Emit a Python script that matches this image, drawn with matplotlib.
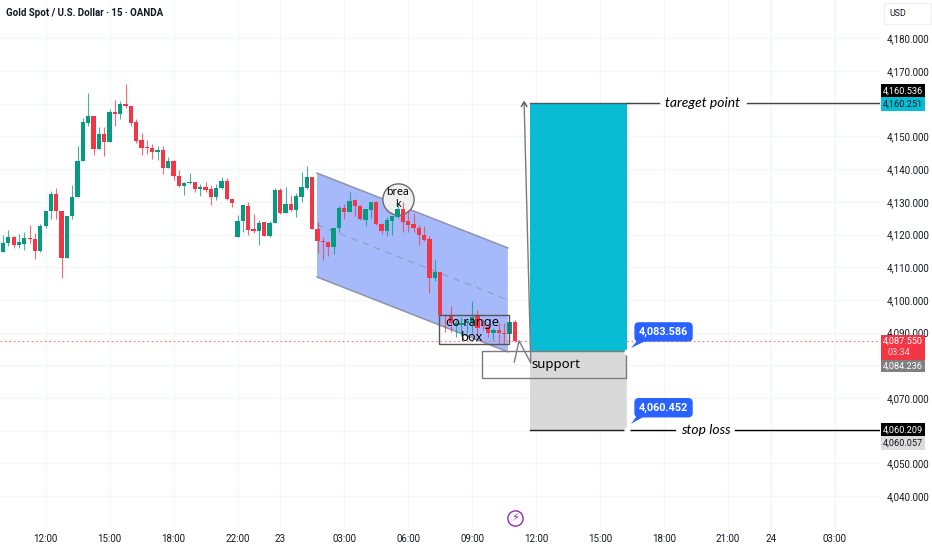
import matplotlib
matplotlib.use("Agg")
import matplotlib.pyplot as plt
from matplotlib.patches import Rectangle, Polygon

# Candles, one entry per 15 minute bar
opens = [4114.7, 4117.5, 4119.3, 4116.9, 4117.2, 4118.9, 4118.7, 4114.9, 4122.5, 4127.2,
         4132.4, 4127.3, 4112.8, 4125.7, 4131.5, 4142.5, 4154.0, 4156.4, 4146.1, 4150.8,
         4148.4, 4157.4, 4156.8, 4159.9, 4159.4, 4154.3, 4148.9, 4146.7, 4146.6, 4145.2,
         4146.0, 4140.5, 4142.5, 4137.9, 4134.9, 4135.7, 4136.0, 4134.0, 4134.4, 4133.9,
         4131.4, 4134.2, 4136.5, 4130.9, 4119.3, 4124.1, 4128.7, 4121.6, 4121.2, 4123.7,
         4119.7, 4123.6, 4133.5, 4126.7, 4129.2, 4127.5, 4131.6, 4134.3, 4137.5, 4121.6,
         4118.0, 4117.8, 4116.3, 4121.9, 4128.0, 4127.0, 4130.6, 4128.7, 4124.4, 4127.5,
         4130.0, 4123.1, 4121.1, 4124.2, 4125.5, 4127.8, 4124.1, 4123.2, 4122.1, 4120.0,
         4118.5, 4106.6, 4108.5, 4095.4, 4095.4, 4092.3, 4092.3, 4092.8, 4093.1, 4095.1,
         4092.3, 4091.8, 4089.8, 4090.8, 4090.0, 4089.5, 4093.1]
highs = [4119.8, 4121.5, 4119.6, 4120.1, 4120.8, 4122.9, 4120.5, 4123.1, 4127.3, 4133.2,
         4134.3, 4127.3, 4125.8, 4135.0, 4147.0, 4155.6, 4163.2, 4156.4, 4152.8, 4152.8,
         4158.5, 4161.3, 4160.9, 4166.0, 4159.4, 4155.5, 4151.2, 4148.9, 4147.6, 4147.2,
         4147.2, 4143.8, 4142.8, 4139.7, 4136.2, 4138.7, 4136.0, 4135.6, 4136.1, 4135.3,
         4135.6, 4137.7, 4137.4, 4130.9, 4125.9, 4129.0, 4129.8, 4126.4, 4124.4, 4123.9,
         4124.2, 4134.1, 4134.1, 4134.6, 4132.1, 4132.6, 4139.0, 4141.1, 4137.5, 4123.9,
         4119.1, 4118.0, 4122.1, 4128.8, 4129.3, 4132.9, 4130.8, 4129.0, 4127.7, 4130.0,
         4130.4, 4123.4, 4125.3, 4125.7, 4129.5, 4130.0, 4127.5, 4126.7, 4122.9, 4122.6,
         4119.5, 4112.2, 4108.5, 4095.7, 4098.1, 4093.8, 4094.9, 4093.8, 4099.7, 4096.9,
         4094.0, 4092.3, 4091.3, 4092.8, 4092.8, 4093.3, 4093.8]
lows = [4114.7, 4116.5, 4116.0, 4116.0, 4115.2, 4117.5, 4112.6, 4114.7, 4121.9, 4124.9,
        4124.9, 4106.8, 4112.8, 4124.9, 4131.5, 4142.5, 4153.3, 4144.4, 4146.1, 4144.1,
        4148.4, 4153.3, 4155.5, 4158.6, 4153.3, 4147.9, 4144.4, 4144.6, 4143.2, 4142.7,
        4138.4, 4140.5, 4136.6, 4134.6, 4132.0, 4135.4, 4133.1, 4131.7, 4133.1, 4129.1,
        4130.5, 4134.0, 4130.5, 4128.3, 4119.3, 4120.8, 4119.8, 4120.6, 4116.7, 4119.4,
        4119.3, 4123.6, 4126.2, 4126.7, 4127.3, 4125.3, 4130.0, 4133.8, 4121.6, 4114.4,
        4112.2, 4113.5, 4114.0, 4120.9, 4124.6, 4126.8, 4125.8, 4124.4, 4122.6, 4125.0,
        4122.9, 4120.2, 4119.6, 4119.9, 4125.0, 4120.9, 4120.9, 4120.9, 4116.8, 4118.1,
        4102.2, 4105.9, 4095.4, 4090.3, 4090.3, 4088.5, 4088.9, 4089.8, 4089.8, 4089.3,
        4090.8, 4088.7, 4087.7, 4086.7, 4086.7, 4089.2, 4087.0]
closes = [4117.3, 4119.1, 4116.9, 4117.6, 4118.9, 4118.6, 4114.9, 4122.7, 4127.3, 4132.4,
          4127.2, 4112.8, 4125.8, 4131.6, 4142.6, 4154.3, 4156.4, 4146.1, 4150.8, 4148.4,
          4157.4, 4157.0, 4159.9, 4159.3, 4154.1, 4148.7, 4146.5, 4146.5, 4145.1, 4146.0,
          4140.5, 4142.4, 4137.9, 4134.9, 4135.8, 4136.0, 4133.9, 4134.4, 4133.7, 4131.4,
          4134.3, 4136.5, 4130.8, 4129.5, 4124.1, 4129.0, 4121.4, 4121.2, 4123.6, 4119.7,
          4123.6, 4133.5, 4126.7, 4129.2, 4127.5, 4131.9, 4134.4, 4137.5, 4121.6, 4117.9,
          4117.7, 4116.3, 4122.1, 4128.0, 4127.0, 4130.4, 4128.7, 4124.6, 4127.7, 4129.8,
          4123.1, 4121.1, 4124.4, 4125.7, 4127.8, 4123.9, 4122.9, 4122.0, 4119.9, 4118.3,
          4106.6, 4108.6, 4095.4, 4095.2, 4092.8, 4092.8, 4092.8, 4093.6, 4094.9, 4091.5,
          4092.1, 4089.8, 4090.8, 4089.8, 4089.6, 4093.1, 4087.55]

time_ticks = [9, 21, 33, 45, 53, 65, 77, 89, 101, 113, 125, 137, 145, 157]
time_labels = ["12:00", "15:00", "18:00", "22:00", "23", "03:00", "06:00", "09:00",
               "12:00", "15:00", "18:00", "21:00", "24", "03:00"]
price_ticks = list(range(4040, 4190, 10))
hidden_prices = [4060, 4080, 4160]

last_price = 4087.55
target_price = 4160.25
entry_price = 4084.1
stop_price = 4060.2

green = "#089981"
red = "#f23645"
ink = "#131722"

plt.rcParams["font.family"] = ["Roboto", "DejaVu Sans"]

fig = plt.figure(figsize=(9.32, 5.5), dpi=100)
ax = fig.add_axes([0, 22 / 550, 880 / 932, 528 / 550])
ax.set_xlim(0.44, 165.5)
ax.set_ylim(4030.2, 4191.76)
for side in ax.spines:
    ax.spines[side].set_visible(False)

ax.set_axisbelow(True)
ax.grid(color="#f4f5f7", linewidth=1)
ax.set_xticks(time_ticks)
ax.set_xticklabels(time_labels)
ax.yaxis.tick_right()
ax.set_yticks(price_ticks)
ax.set_yticklabels(["" if p in hidden_prices else f"{p:,}.000" for p in price_ticks])
ax.tick_params(axis="x", length=0, pad=4, labelsize=7, labelcolor=ink)
ax.tick_params(axis="y", length=0, pad=5, labelsize=7, labelcolor=ink)

# Channel sits under the candles
ax.add_patch(Polygon([(59.9, 4138.8), (95.7, 4115.9), (95.7, 4084.1), (59.9, 4107.0)],
                     facecolor="#a5b9fb", edgecolor="none", zorder=1))
ax.plot([59.9, 95.7], [4138.8, 4115.9], color="#8d94ab", linewidth=1.1, zorder=1.5)
ax.plot([59.9, 95.7], [4107.0, 4084.1], color="#8d94ab", linewidth=1.1, zorder=1.5)
ax.plot([59.9, 95.7], [4123.0, 4100.0], color="#8f9bc4", linewidth=0.8, linestyle=(0, (6, 5)), zorder=1.5)

# Break circle, the candles show through it
ax.plot([75.1], [4131.0], marker="o", markersize=22.5, markerfacecolor="#f0f0f0", markeredgecolor="#6a6a6a",
        markeredgewidth=1, zorder=1.8)

# Candles
for i in range(len(opens)):
    bar_x = i + 1
    color = green if closes[i] >= opens[i] else red
    ax.vlines(bar_x, lows[i], highs[i], color=color, linewidth=0.8, alpha=0.75, zorder=2)
    bottom = min(opens[i], closes[i])
    height = max(abs(closes[i] - opens[i]), 0.3)
    ax.bar(bar_x, height, bottom=bottom, width=0.8, color=color, linewidth=0, zorder=3)

ax.plot([0.44, 165.5], [last_price, last_price], color="#f5717c", linewidth=0.8, linestyle=(0, (1.5, 2.5)), zorder=2)

# Long position tool
ax.add_patch(Rectangle((99.9, entry_price), 18.2, target_price - entry_price, facecolor="#08bcd4", edgecolor="none", zorder=4))
ax.add_patch(Rectangle((99.9, stop_price), 18.2, entry_price - stop_price, facecolor="#d9d9d9", edgecolor="none", zorder=4))
ax.plot([99.9, 118.1], [target_price, target_price], color="#4a5a60", linewidth=1, zorder=5)
ax.plot([99.9, 117.6], [stop_price, stop_price], color="#222222", linewidth=1, zorder=5)
ax.plot([118.1, 118.1], [stop_price, entry_price], color="white", linewidth=1, zorder=5)
ax.scatter([118.1, 118.1], [entry_price, stop_price], s=12, color="white", zorder=6)

# Arrow into the target
ax.plot([96.9, 97.8, 100.0, 98.75], [4081.0, 4087.45, 4080.7, 4160.25], color="#787b86", linewidth=1, zorder=5)
ax.plot([98.25, 98.75, 99.25], [4159.2, 4160.6, 4159.2], color="#555555", linewidth=1, zorder=5)

# Support box
ax.add_patch(Rectangle((90.8, 4076.2), 27.1, 8.1, facecolor="none", edgecolor="#7c7c7c", linewidth=1, zorder=5))
ax.text(100.2, 4080.2, "support", fontsize=9.5, color="black", family="Noto Sans", ha="left", va="center", zorder=7)

# Range box
ax.add_patch(Rectangle((82.8, 4086.5), 13.1, 8.9, facecolor="none", edgecolor="#555555", linewidth=1, zorder=5))
ax.text(89.0, 4090.8, "co range\nbox", fontsize=9.2, color="black", family="Noto Sans", ha="center", va="center",
        linespacing=1.15, zorder=7)

ax.text(75.1, 4131.0, "brea\nk", fontsize=7.6, color="black", family="Noto Sans", ha="center", va="center",
        linespacing=1.2, zorder=7)

# Target and stop lines with their hand written labels
ax.plot([118.1, 124.1], [target_price, target_price], color="#444444", linewidth=1, zorder=5)
ax.plot([140.6, 165.5], [target_price, target_price], color="#444444", linewidth=1, zorder=5)
ax.text(132.3, target_price, "tareget point", fontsize=10, style="italic", family="Lato", color="black",
        ha="center", va="center", zorder=7)
ax.plot([118.4, 127.1], [stop_price, stop_price], color="black", linewidth=1, zorder=5)
ax.plot([138.3, 165.5], [stop_price, stop_price], color="black", linewidth=1, zorder=5)
ax.text(132.8, stop_price, "stop loss", fontsize=10, style="italic", family="Lato", color="black",
        ha="center", va="center", zorder=7)

# Blue price callouts
for label, box_y, tail_base, tail_tip in [("4,083.586", 4090.2, 4087.4, 4085.3), ("4,060.452", 4067.0, 4064.5, 4062.1)]:
    ax.text(124.9, box_y, label, fontsize=7.8, fontweight="bold", color="white", ha="center", va="center", zorder=8,
            bbox=dict(boxstyle="round,pad=0.42", facecolor="#2962ff", edgecolor="none"))
    ax.add_patch(Polygon([(119.9, tail_base), (121.5, tail_base), (118.8, tail_tip)], facecolor="#2962ff", edgecolor="none", zorder=8))

# Lightning mark at the bottom
ax.plot([97], [4033.3], marker="o", markersize=11, markerfacecolor="white", markeredgecolor="#9c27b0",
        markeredgewidth=1, zorder=6)
ax.text(97, 4033.3, "\u26a1", fontsize=8, color="#9c27b0", family="DejaVu Sans", ha="center", va="center", zorder=7)

# Price scale tags, drawn outside the plot area
scale = ax.get_yaxis_transform()
tag_x = 881 / 880
tag_w = 44 / 880
tags = [(4166.1, 4162.1, "black", "white", "4,160.536", 4164.0),
        (4162.1, 4157.9, "#08bcd4", ink, "4,160.251", 4160.0),
        (4089.3, 4081.6, "#f23645", "white", "4,087.550", 4087.4),
        (4081.6, 4077.9, "#808080", "white", "4,084.236", 4079.8),
        (4062.2, 4058.2, "black", "white", "4,060.209", 4060.2),
        (4058.2, 4054.1, "#dcdcdc", ink, "4,060.057", 4056.1)]
for top, bottom, face, text_color, label, label_y in tags:
    ax.add_patch(Rectangle((tag_x, bottom), tag_w, top - bottom, transform=scale, facecolor=face, edgecolor="none",
                           clip_on=False, zorder=9))
    ax.text(tag_x + tag_w / 2, label_y, label, transform=scale, fontsize=6.6, color=text_color, ha="center",
            va="center", clip_on=False, zorder=10)
ax.text(887 / 880, 4083.9, "03:34", transform=scale, fontsize=6.6, color="#ffd6da", ha="left", va="center",
        clip_on=False, zorder=10)

fig.add_artist(Rectangle((884 / 932, 1 - 24 / 550), 47 / 932, 21 / 550, transform=fig.transFigure, facecolor="white",
                         edgecolor="#f0f1f3", linewidth=1))
fig.text(889 / 932, 1 - 14 / 550, "USD", fontsize=6.4, color=ink, ha="left", va="center")
fig.text(6 / 932, 1 - 13 / 550, "Gold Spot / U.S. Dollar \u00b7 15 \u00b7 OANDA", fontsize=7.0, fontweight="bold",
         color=ink, ha="left", va="center")

fig.savefig("out.png", dpi=100)
